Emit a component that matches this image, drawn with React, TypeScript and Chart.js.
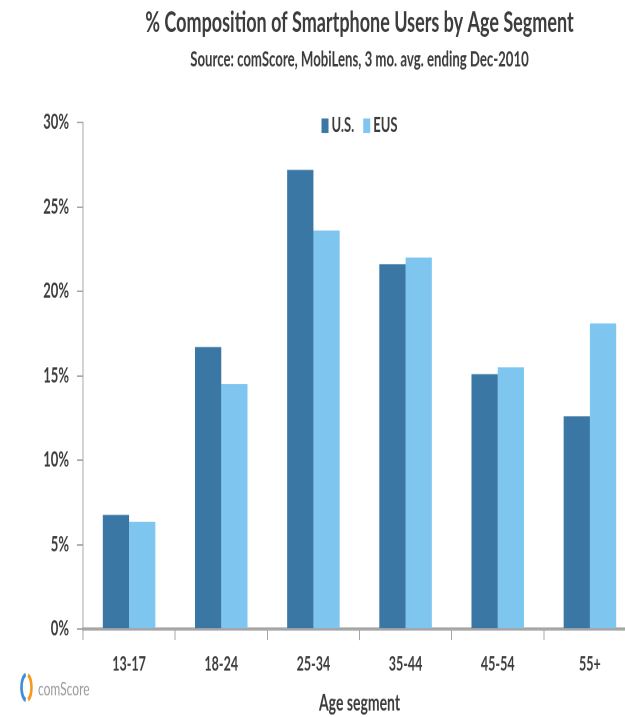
import React, { useEffect, useRef } from 'react';
import { Chart, registerables } from 'chart.js';

Chart.register(...registerables);

// Share of smartphone users by age segment, in percent
const ageSegments = ['13-17', '18-24', '25-34', '35-44', '45-54', '55+'];
const usShare = [6.75, 16.7, 27.2, 21.6, 15.1, 12.6];
const eusShare = [6.35, 14.5, 23.6, 22.0, 15.5, 18.1];
const seriesNames = ['U.S.', 'EUS'];
const yTickStep = 5;
const yMax = 30;

const US_BLUE = '#3a77a4';
const EUS_BLUE = '#7ec5ef';
const TEXT = '#3c3c3c';
const AXIS = '#a6a6a6';
const FONT = 'Lato, "Noto Sans", sans-serif';

// The chart is laid out on a short canvas and stretched vertically,
// which gives the tall, narrow lettering of the original slide.
const CANVAS_W = 660;
const CANVAS_H = 448;
const STRETCH = 717 / CANVAS_H;

const insideLegend = {
  id: 'insideLegend',
  afterDraw(chart: any) {
    const { ctx, chartArea } = chart;
    ctx.save();
    ctx.font = `bold 13px ${FONT}`;
    const boxW = 7;
    const boxH = 9;
    const gap = 3;
    const itemGap = 9;
    const items = chart.data.datasets.map((ds: any) => ({
      label: ds.label as string,
      color: ds.backgroundColor as string,
      w: boxW + gap + ctx.measureText(ds.label).width,
    }));
    const total = items.reduce((s: number, it: any) => s + it.w, 0) + itemGap * (items.length - 1);
    let x = (chartArea.left + chartArea.right) / 2 - total / 2;
    const cy = chartArea.top + 2;
    ctx.textBaseline = 'middle';
    ctx.textAlign = 'left';
    for (const it of items) {
      ctx.fillStyle = it.color;
      ctx.fillRect(x, cy - boxH / 2, boxW, boxH);
      ctx.fillStyle = TEXT;
      ctx.fillText(it.label, x + boxW + gap, cy);
      x += it.w + itemGap;
    }
    ctx.restore();
  },
};

const sourceLogo = {
  id: 'sourceLogo',
  afterDraw(chart: any) {
    const { ctx } = chart;
    const cx = 26.5;
    const cy = 429.5;
    ctx.save();
    ctx.lineWidth = 2.6;
    ctx.strokeStyle = '#3d8fd6';
    ctx.beginPath();
    ctx.ellipse(cx, cy, 5, 8, 0, Math.PI * 0.55, Math.PI * 1.45);
    ctx.stroke();
    ctx.strokeStyle = '#f39a1e';
    ctx.beginPath();
    ctx.ellipse(cx, cy, 5, 8, 0, -Math.PI * 0.4, Math.PI * 0.4);
    ctx.stroke();
    ctx.fillStyle = '#9a9a9a';
    ctx.font = `12px ${FONT}`;
    ctx.textBaseline = 'middle';
    ctx.textAlign = 'left';
    ctx.fillText('comScore', 38, cy + 1);
    ctx.restore();
  },
};

export default function App() {
  const canvasRef = useRef<HTMLCanvasElement | null>(null);

  useEffect(() => {
    if (!canvasRef.current) return;
    const chart = new Chart(canvasRef.current, {
      type: 'bar',
      data: {
        labels: ageSegments,
        datasets: [
          {
            label: seriesNames[0],
            data: usShare,
            backgroundColor: US_BLUE,
            barPercentage: 1,
            categoryPercentage: 0.57,
          },
          {
            label: seriesNames[1],
            data: eusShare,
            backgroundColor: EUS_BLUE,
            barPercentage: 1,
            categoryPercentage: 0.57,
          },
        ],
      },
      options: {
        animation: false,
        responsive: false,
        devicePixelRatio: 2,
        layout: { padding: { left: 0, right: CANVAS_W - 636, top: 0, bottom: 0 } },
        plugins: {
          legend: { display: false },
          tooltip: { enabled: false },
          title: {
            display: true,
            fullSize: false,
            text: '% Composition of Smartphone Users by Age Segment',
            color: TEXT,
            font: { family: FONT, size: 18, weight: 'bold', lineHeight: 1.2 },
            padding: { top: 3.6, bottom: 4.2 },
          },
          subtitle: {
            display: true,
            fullSize: false,
            text: 'Source: comScore, MobiLens, 3 mo. avg. ending Dec-2010',
            color: TEXT,
            font: { family: FONT, size: 13.2, weight: 'bold', lineHeight: 1.2 },
            padding: { top: 0, bottom: 31.3 },
          },
        },
        scales: {
          x: {
            grid: {
              display: true,
              offset: true,
              drawOnChartArea: false,
              drawTicks: true,
              tickLength: 7,
              color: AXIS,
            },
            border: { display: true, color: AXIS, width: 2 },
            ticks: {
              color: TEXT,
              font: { family: FONT, size: 12.5, weight: 'bold' },
              padding: 7.5,
              maxRotation: 0,
            },
            title: {
              display: true,
              text: 'Age segment',
              color: TEXT,
              font: { family: FONT, size: 14, weight: 'bold', lineHeight: 1.2 },
              padding: 0,
            },
            afterFit(axis: any) {
              axis.height = 55;
            },
          },
          y: {
            min: 0,
            max: yMax,
            grid: {
              display: true,
              drawOnChartArea: false,
              drawTicks: true,
              tickLength: 6,
              color: AXIS,
            },
            border: { display: true, color: AXIS, width: 1 },
            ticks: {
              stepSize: yTickStep,
              color: TEXT,
              font: { family: FONT, size: 13, weight: 'bold' },
              padding: 8,
              callback: (v: any) => `${v}%`,
            },
            afterFit(axis: any) {
              axis.width = 83;
            },
          },
        },
      },
      plugins: [insideLegend, sourceLogo],
    });
    return () => chart.destroy();
  }, []);

  return (
    <div
      style={{
        position: 'absolute',
        left: 0,
        top: 0,
        width: 625,
        height: 717,
        overflow: 'hidden',
        background: '#ffffff',
      }}
    >
      <div
        style={{
          width: CANVAS_W,
          height: CANVAS_H,
          transform: `scaleY(${STRETCH})`,
          transformOrigin: '0 0',
        }}
      >
        <canvas ref={canvasRef} width={CANVAS_W} height={CANVAS_H} />
      </div>
    </div>
  );
}
